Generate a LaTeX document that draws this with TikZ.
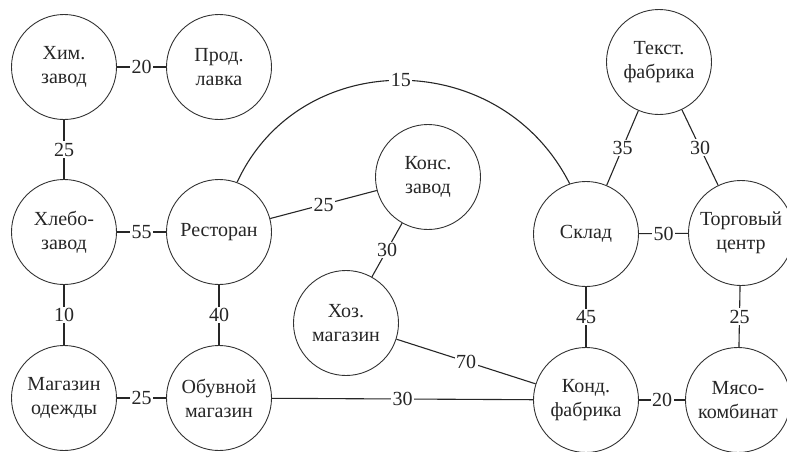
\documentclass[tikz,border=0pt]{standalone}
\usepackage{fontspec}
\setmainfont{Liberation Serif}
\usetikzlibrary{positioning}

\begin{document}
\begin{tikzpicture}[
    x=1pt, y=-1pt,
    place/.style={circle, draw=black!80, line width=0.9pt, minimum size=105pt, inner sep=0pt,
        align=center, font=\fontsize{20}{24}\selectfont, text=black!85},
    edge/.style={draw=black!85, line width=1.1pt},
    wt/.style={fill=white, inner sep=1.5pt, font=\fontsize{20}{22}\selectfont, text=black!85}
]
\useasboundingbox (0,0) rectangle (787,451);

% Left part
\node[place] (him) at (64,67) {Хим.\\завод};
\node[place] (prod) at (219,67) {Прод.\\лавка};
\node[place] (hleb) at (64,232) {Хлебо-\\завод};
\node[place] (rest) at (219,232) {Ресторан};
\node[place] (mag) at (64,398) {Магазин\\одежды};
\node[place] (obuv) at (219,398) {Обувной\\магазин};

% Middle
\node[place] (kons) at (428,177) {Конс.\\завод};
\node[place] (hoz) at (346,323) {Хоз.\\магазин};

% Right part
\node[place] (tekst) at (659,62) {Текст.\\фабрика};
\node[place] (sklad) at (586,234) {Склад};
\node[place] (torg) at (741,233) {Торговый\\центр};
\node[place] (kond) at (586,400) {Конд.\\фабрика};
\node[place] (myaso) at (738,400) {Мясо-\\комбинат};

% Roads
\foreach \a/\b/\w in {him/prod/20, him/hleb/25, hleb/rest/55, hleb/mag/10,
    rest/obuv/40, mag/obuv/25, rest/kons/25, kons/hoz/30, hoz/kond/70,
    obuv/kond/30, tekst/sklad/35, tekst/torg/30, sklad/torg/50,
    sklad/kond/45, torg/myaso/25, kond/myaso/20}
    \draw[edge] (\a) -- node[wt] {\w} (\b);

% Long road over the top
\draw[edge] (rest.70) .. controls (300,46) and (500,46) .. node[wt] {15} (sklad.108);

\end{tikzpicture}
\end{document}
